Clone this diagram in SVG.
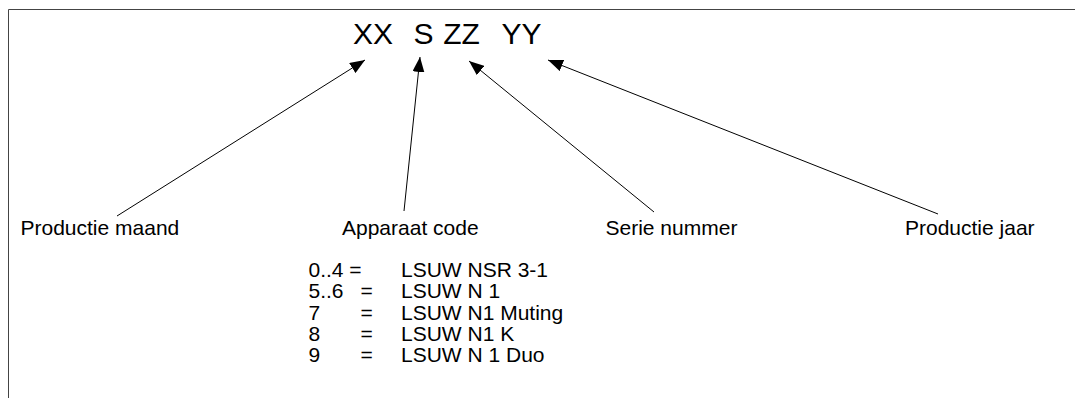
<svg xmlns="http://www.w3.org/2000/svg" width="1075" height="398" viewBox="0 0 1075 398">
  <style>
    text { font-family: "Liberation Sans", Arial, sans-serif; fill: #000; }
    .code { font-size: 30px; }
    .lbl { font-size: 21px; }
    .conn { stroke: #000; stroke-width: 1; fill: none; marker-end: url(#head); }
    .frame { stroke: #444; stroke-width: 1; fill: none; }
  </style>
  <defs>
    <marker id="head" markerUnits="userSpaceOnUse" markerWidth="15" markerHeight="12" refX="15" refY="6" orient="auto">
      <path d="M0,0 L15,6 L0,12 z" fill="#000"/>
    </marker>
  </defs>

  <!-- open frame: top and left edges -->
  <polyline class="frame" points="8.5,398 8.5,9.5 1075,9.5"/>

  <!-- serial number format -->
  <g id="code">
    <text class="code" x="353" y="44">XX</text>
    <text class="code" x="413.5" y="44">S</text>
    <text class="code" x="443.3" y="44">ZZ</text>
    <text class="code" x="501.5" y="44">YY</text>
  </g>

  <g id="productie-maand">
    <text class="lbl" x="20.5" y="235">Productie maand</text>
  </g>
  <g id="apparaat-code">
    <text class="lbl" x="342" y="235">Apparaat code</text>
  </g>
  <g id="serie-nummer">
    <text class="lbl" x="605.5" y="235">Serie nummer</text>
  </g>
  <g id="productie-jaar">
    <text class="lbl" x="905" y="235">Productie jaar</text>
  </g>

  <!-- device code table -->
  <g id="code-table">
    <text class="lbl" y="277"><tspan x="308.5">0..4 =</tspan><tspan x="401">LSUW NSR 3-1</tspan></text>
    <text class="lbl" y="298.3"><tspan x="308.5">5..6</tspan><tspan x="360.5">=</tspan><tspan x="401">LSUW N 1</tspan></text>
    <text class="lbl" y="319.6"><tspan x="308.5">7</tspan><tspan x="360.5">=</tspan><tspan x="401">LSUW N1 Muting</tspan></text>
    <text class="lbl" y="340.9"><tspan x="308.5">8</tspan><tspan x="360.5">=</tspan><tspan x="401">LSUW N1 K</tspan></text>
    <text class="lbl" y="362.2"><tspan x="308.5">9</tspan><tspan x="360.5">=</tspan><tspan x="401">LSUW N 1 Duo</tspan></text>
  </g>

  <g id="connectors">
    <line class="conn" x1="117" y1="216" x2="365" y2="60"/>
    <line class="conn" x1="404" y1="211" x2="420" y2="57"/>
    <line class="conn" x1="654" y1="212" x2="469" y2="61"/>
    <line class="conn" x1="938" y1="214" x2="548" y2="60"/>
  </g>
</svg>
